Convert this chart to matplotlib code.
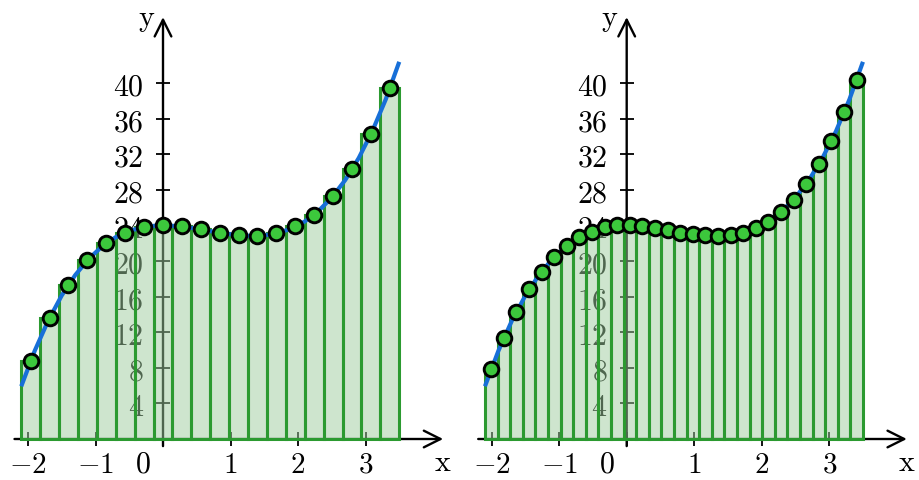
import numpy as np
import matplotlib
matplotlib.use("Agg")
import matplotlib.pyplot as plt

plt.rcParams['mathtext.fontset'] = 'cm'

# interval and partitions (midpoint sums)
x_start, x_end = -2.1, 3.5

# bar heights
left_heights = [8.8, 13.6, 17.3, 20.1, 22.0, 23.2, 23.8, 24.0, 23.9, 23.6,
                23.2, 22.9, 22.8, 23.1, 23.9, 25.2, 27.3, 30.3, 34.3, 39.4]
right_heights = [7.9, 11.4, 14.3, 16.8, 18.8, 20.5, 21.7, 22.7, 23.3, 23.8,
                 24.0, 24.0, 23.9, 23.7, 23.5, 23.2, 23.0, 22.9, 22.8, 22.9,
                 23.2, 23.7, 24.4, 25.5, 26.9, 28.7, 30.9, 33.5, 36.7, 40.3]

# the curve
curve_x = [-2.1, -1.9, -1.7, -1.5, -1.3, -1.1, -0.9, -0.7, -0.5, -0.3, -0.1,
           0.1, 0.3, 0.5, 0.7, 0.9, 1.1, 1.3, 1.5, 1.7, 1.9, 2.1, 2.3, 2.5,
           2.7, 2.9, 3.1, 3.3, 3.5]
curve_y = [5.92, 9.92, 13.31, 16.13, 18.42, 20.25, 21.65, 22.68, 23.38, 23.79,
           23.98, 23.98, 23.85, 23.63, 23.36, 23.11, 22.91, 22.82, 22.88, 23.13,
           23.64, 24.44, 25.59, 27.13, 29.10, 31.57, 34.57, 38.16, 42.38]

yticks = [4, 8, 12, 16, 20, 24, 28, 32, 36, 40]
xticks = [-2, -1, 0, 1, 2, 3]
xtick_labels = [r'$-2$', r'$-1$', '', r'$1$', r'$2$', r'$3$']

W, H = 919, 481
px_x = 67.5   # pixels per x unit
px_y = 8.9    # pixels per y unit
base_px = 41  # baseline from bottom

fig = plt.figure(figsize=(W / 100, H / 100), dpi=100)

face = (0.62, 0.80, 0.62, 0.5)
edge = '#2b9a30'


def panel(origin_px, xmin, xmax, heights):
    ax = fig.add_axes([(origin_px + xmin * px_x) / W, 0,
                       (xmax - xmin) * px_x / W, 1])
    ax.set_xlim(xmin, xmax)
    ax.set_ylim(-base_px / px_y, (H - base_px) / px_y)
    ax.set_axisbelow(True)
    for s in ax.spines.values():
        s.set_visible(False)
    ax.spines['left'].set_position(('data', 0))
    ax.spines['bottom'].set_position(('data', 0))

    n = len(heights)
    edges = np.linspace(x_start, x_end, n + 1)
    mids = (edges[:-1] + edges[1:]) / 2
    dx = edges[1] - edges[0]

    ax.bar(mids, heights, width=dx, facecolor=face, edgecolor=edge,
           linewidth=2.2, zorder=1)
    ax.plot(curve_x, curve_y, color='#176fd8', lw=3, zorder=3,
            solid_capstyle='butt')
    ax.plot(mids, heights, 'o', ms=10.5, mfc='#3cc83c', mec='black',
            mew=2.1, zorder=4)

    # axes with arrows
    arr = dict(arrowstyle='->,head_length=0.6,head_width=0.3', lw=1.7,
               color='black', shrinkA=0, shrinkB=0, mutation_scale=20)
    ax.annotate('', xy=(4.15, 0), xytext=(-2.2, 0), arrowprops=arr, zorder=0.6)
    ax.annotate('', xy=(0, 47.4), xytext=(0, -0.8), arrowprops=arr, zorder=0.6)

    ax.set_yticks(yticks, labels=[f'${v}$' for v in yticks])
    ax.set_xticks(xticks, labels=xtick_labels)
    ax.tick_params(axis='y', direction='inout', length=9.5, width=1.3,
                   labelsize=21.5, pad=9)
    ax.tick_params(axis='x', direction='inout', length=9.5, width=1.3,
                   labelsize=21, pad=3)

    ax.text(-0.3, -2.7, r'$0$', fontsize=21.5, ha='center', va='center',
            zorder=0.6)
    ax.text(4.15, -2.5, r'$\mathrm{x}$', fontsize=21.5, ha='center',
            va='center')
    ax.text(-0.25, 47.2, r'$\mathrm{y}$', fontsize=21.5, ha='center',
            va='center')
    return ax


panel(163, -2.4, 4.4, left_heights)
panel(626.7, -2.4, 4.3, right_heights)

fig.savefig('out.png', dpi=100)
